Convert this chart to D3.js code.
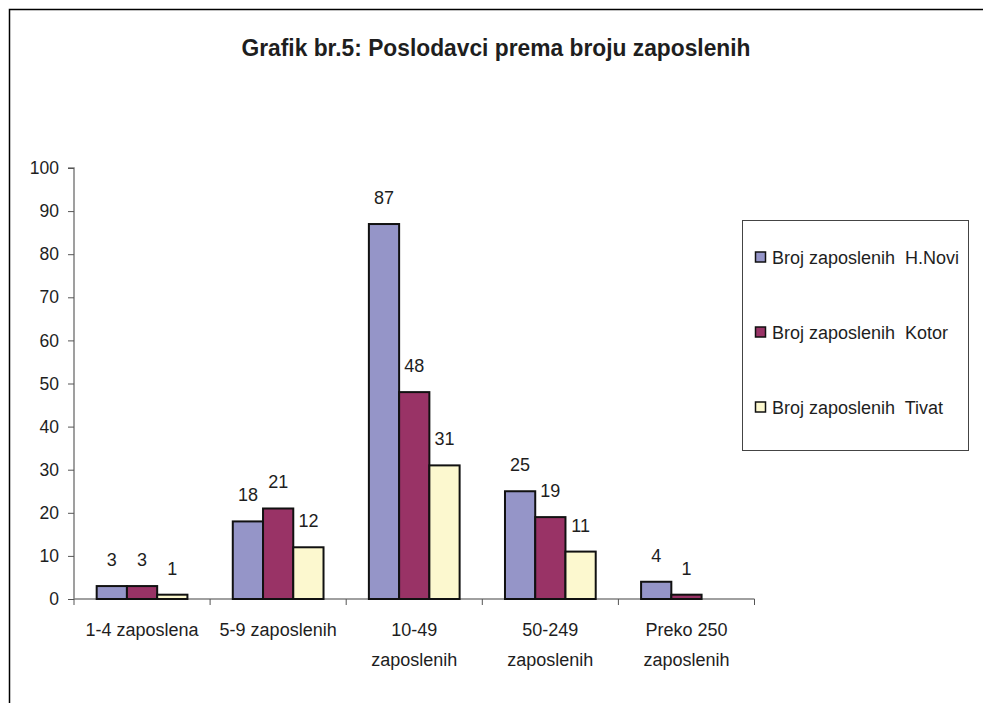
<!DOCTYPE html>
<html>
<head>
<meta charset="utf-8">
<script src="https://cdn.jsdelivr.net/npm/d3@7"></script>
<style>
  body { margin: 0; background: #fff; }
  text { font-family: "Liberation Sans", Arial, sans-serif; fill: #1e1e1e; }
</style>
</head>
<body>
<svg id="chart"></svg>
<script>
// chart values
const categories = ['1-4 zaposlena', '5-9 zaposlenih', '10-49 zaposlenih', '50-249 zaposlenih', 'Preko 250 zaposlenih'];
const seriesNames = ['Broj zaposlenih  H.Novi', 'Broj zaposlenih  Kotor', 'Broj zaposlenih  Tivat'];
const hNovi = [3, 18, 87, 25, 4];
const kotor = [3, 21, 48, 19, 1];
const tivat = [1, 12, 31, 11, null];
const yTicks = [0, 10, 20, 30, 40, 50, 60, 70, 80, 90, 100];
const colors = ['#9595c8', '#993366', '#fcf8cf'];
const title = 'Grafik br.5: Poslodavci prema broju zaposlenih';

const width = 983, height = 703;
const margin = { top: 168, left: 74, right: 228, bottom: 104 };

const svg = d3.select('#chart')
  .attr('width', width)
  .attr('height', height);

// outer frame (only top/left edges fall inside the window)
svg.append('rect')
  .attr('x', 9.5).attr('y', 9.5)
  .attr('width', 1100).attr('height', 1100)
  .attr('fill', 'none')
  .attr('stroke', '#000')
  .attr('stroke-width', 1.5);

svg.append('text')
  .attr('x', 496)
  .attr('y', 56)
  .attr('text-anchor', 'middle')
  .attr('font-size', 24)
  .attr('font-weight', 'bold')
  .attr('textLength', 509)
  .attr('lengthAdjust', 'spacingAndGlyphs')
  .text(title);

const series = [hNovi, kotor, tivat];
const data = categories.map((c, i) => ({
  cat: c,
  values: series.map((s, j) => ({ key: seriesNames[j], idx: j, value: s[i] }))
}));

const x = d3.scaleBand()
  .domain(categories)
  .range([margin.left, width - margin.right - 0.5])
  .paddingInner(1 / 3)
  .paddingOuter(1 / 6);

const xSub = d3.scaleBand()
  .domain(seriesNames)
  .range([0, x.bandwidth()]);

const y = d3.scaleLinear()
  .domain([0, 100])
  .range([height - margin.bottom, margin.top]);

// y axis
const yAxis = d3.axisLeft(y).tickValues(yTicks).tickSize(6).tickPadding(9);
const yG = svg.append('g')
  .attr('transform', `translate(${margin.left},0)`)
  .call(yAxis);
yG.select('.domain').attr('stroke', '#808080').attr('stroke-width', 1.5)
  .attr('d', `M-6,${y(100)}H0V${y(0)}`);
yG.selectAll('.tick line').attr('stroke', '#555');
yG.selectAll('.tick text').attr('font-size', 17.5).attr('fill', '#1e1e1e')
  .attr('font-family', '"Liberation Sans", Arial, sans-serif');

// x axis with ticks on category boundaries
const x0 = margin.left, x1 = width - margin.right - 0.5;
const xG = svg.append('g');
xG.append('line')
  .attr('x1', x0).attr('x2', x1)
  .attr('y1', y(0)).attr('y2', y(0))
  .attr('stroke', '#808080').attr('stroke-width', 1.5);
const step = x.step();
xG.selectAll('.xtick')
  .data(d3.range(categories.length + 1))
  .enter().append('line')
  .attr('class', 'xtick')
  .attr('x1', i => x0 + i * step).attr('x2', i => x0 + i * step)
  .attr('y1', y(0)).attr('y2', y(0) + 6)
  .attr('stroke', '#555');

// category labels, wrapped into the band
const lbl = xG.selectAll('.xlabel')
  .data(categories)
  .enter().append('text')
  .attr('class', 'xlabel')
  .attr('text-anchor', 'middle')
  .attr('font-size', 18)
  .attr('x', d => x(d) + x.bandwidth() / 2)
  .attr('y', y(0) + 37);

lbl.each(function (d) {
  const t = d3.select(this);
  const words = d.split(' ');
  let lines = [], line = [];
  const tmp = t.append('tspan');
  words.forEach(w => {
    line.push(w);
    tmp.text(line.join(' '));
    if (tmp.node().getComputedTextLength() > step - 6 && line.length > 1) {
      line.pop();
      lines.push(line.join(' '));
      line = [w];
    }
  });
  lines.push(line.join(' '));
  tmp.remove();
  lines.forEach((l, i) => {
    t.append('tspan')
      .attr('x', x(d) + x.bandwidth() / 2)
      .attr('dy', i === 0 ? 0 : 30)
      .text(l);
  });
});

// bars
const groups = svg.selectAll('.group')
  .data(data)
  .enter().append('g')
  .attr('class', 'group')
  .attr('transform', d => `translate(${x(d.cat)},0)`);

groups.selectAll('rect')
  .data(d => d.values.filter(v => v.value != null))
  .enter().append('rect')
  .attr('x', d => xSub(d.key))
  .attr('y', d => y(d.value))
  .attr('width', xSub.bandwidth())
  .attr('height', d => y(0) - y(d.value))
  .attr('fill', d => colors[d.idx])
  .attr('stroke', '#111')
  .attr('stroke-width', 2);

groups.selectAll('.val')
  .data(d => d.values.filter(v => v.value != null))
  .enter().append('text')
  .attr('class', 'val')
  .attr('text-anchor', 'middle')
  .attr('font-size', 18)
  .attr('x', d => xSub(d.key) + xSub.bandwidth() / 2)
  .attr('y', d => y(d.value) - 20)
  .text(d => d.value);

// legend
const legend = svg.append('g');
legend.append('rect')
  .attr('x', 742.5).attr('y', 220.5)
  .attr('width', 226).attr('height', 230)
  .attr('fill', '#fff')
  .attr('stroke', '#444')
  .attr('stroke-width', 1);

const items = legend.selectAll('.item')
  .data(seriesNames)
  .enter().append('g')
  .attr('class', 'item')
  .attr('transform', (d, i) => `translate(755,${257 + i * 75})`);

items.append('rect')
  .attr('x', 0.5).attr('y', -5)
  .attr('width', 10).attr('height', 10)
  .attr('fill', (d, i) => colors[i])
  .attr('stroke', '#111')
  .attr('stroke-width', 1.5);

items.append('text')
  .attr('x', 17)
  .attr('y', 6.5)
  .attr('font-size', 18)
  .attr('xml:space', 'preserve')
  .style('white-space', 'pre')
  .text(d => d);
</script>
</body>
</html>
